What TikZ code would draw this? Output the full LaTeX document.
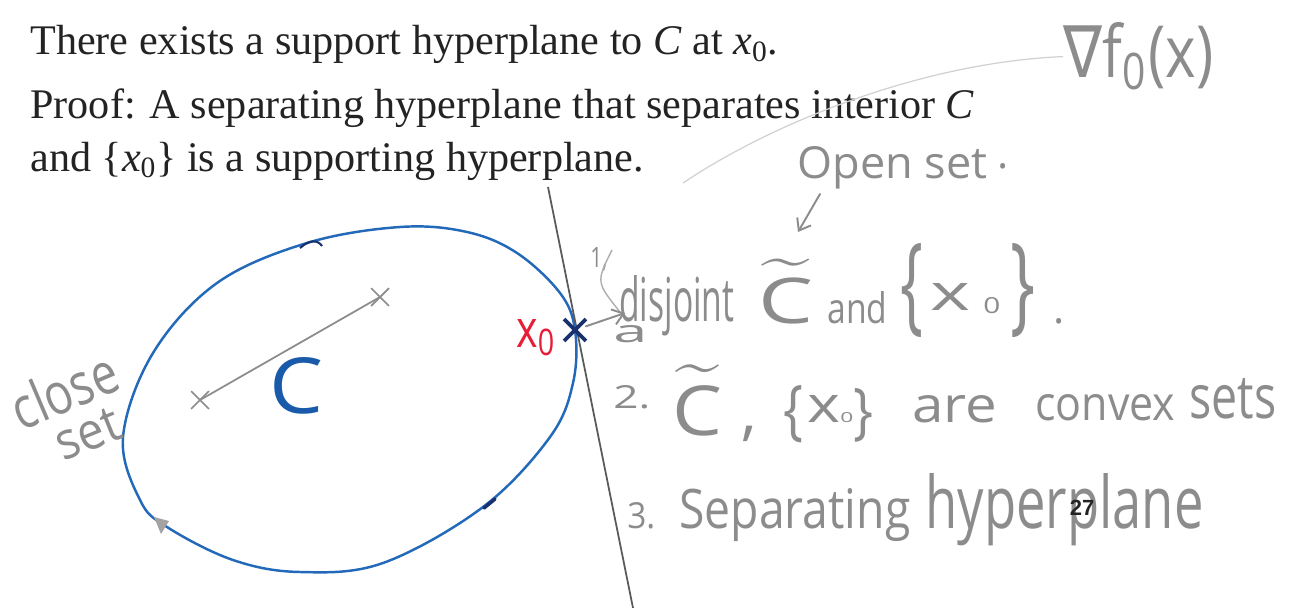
\documentclass[tikz,border=0pt]{standalone}
\usepackage{fontspec}
\usepackage{graphicx}
\setmainfont{Liberation Serif}
\newfontfamily\hand{Open Sans}
\newfontfamily\djv{DejaVu Sans}
\newfontfamily\numfont{Liberation Sans}
\usetikzlibrary{arrows.meta,shapes.misc}
\newlength\pxu
\setlength\pxu{0.02cm}
\newcommand\hwb[3]{\resizebox{#1\pxu}{#2\pxu}{\hand #3}}
\newcommand\tildeC{$\widetilde{\mbox{\hand C}}$}
\definecolor{ellblue}{RGB}{35,105,185}
\definecolor{cblue}{RGB}{25,90,170}
\definecolor{navy}{RGB}{25,50,110}
\definecolor{xred}{RGB}{230,30,55}
\definecolor{hgray}{RGB}{140,140,140}
\definecolor{ink}{RGB}{35,35,35}
\definecolor{planegray}{RGB}{90,90,90}
\begin{document}
\begin{tikzpicture}[x=0.02cm,y=-0.02cm,
  prose/.style={anchor=base west,inner sep=0pt,text=ink,font=\fontsize{24}{28}\selectfont},
  hw/.style={anchor=base west,inner sep=0pt,text=hgray},
  hwc/.style={anchor=center,inner sep=0pt,text=hgray},
  stroke/.style={draw=hgray,line width=1.1pt,line cap=round},
  xmark/.style={cross out,draw=hgray,line width=1pt,minimum size=0.32cm,inner sep=0pt},
  bluex/.style={cross out,draw=navy,line width=2.2pt,minimum size=0.36cm,inner sep=0pt},
  barb/.style={-{Straight Barb[length=6pt,width=9pt]}}]
\fill[white] (0,0) rectangle (1294,608);
\useasboundingbox (0,0) rectangle (1294,608);

% printed text
\node[prose] (l1) at (30,55) {There exists a support hyperplane to \textit{C} at \textit{x}\textsubscript{0}.};
\node[prose] (l2) at (30,118) {Proof: A separating hyperplane that separates interior \textit{C}};
\node[prose] (l3) at (30,171) {and \{\textit{x}\textsubscript{0}\} is a supporting hyperplane.};

% convex set C
\draw[ellblue,line width=1.4pt] plot[smooth cycle,tension=0.6] coordinates {
  (400,227) (467,232) (517,253) (560,293) (575,330) (573,383) (550,437)
  (483,507) (383,563) (300,572) (233,560) (167,527) (140,500) (123,437)
  (153,353) (217,283) (307,243)};
\draw[navy,line width=1.2pt] (300,248) .. controls (310,239) and (318,240) .. (322,246);
\draw[navy,line width=2pt,line cap=round] (484,508) -- (495,499);
\fill[hgray!80] (154,517) -- (169,521) -- (161,534) -- cycle;

% segment inside C
\node[xmark] (p1) at (200,400) {};
\node[xmark] (p2) at (380,297) {};
\draw[hgray,line width=1pt] (p1.center) -- (p2.center);
\node[hw,text=cblue] (Clab) at (269,413) {\hwb{54}{56}{C}};

% supporting hyperplane and x0
\coordinate (h1) at (548,187);
\coordinate (h2) at (633,608);
\draw[planegray,line width=1pt] (h1) -- (h2);
\node[bluex] (x0) at (575,330) {};
\node[hw,text=xred] (x0lab) at (516,347) {\hwb{40}{28}{x\textsubscript{0}}};

% close set
\node[hwc,rotate=23] (close) at (64,390) {\hwb{110}{44}{close}};
\node[hwc,rotate=22] (setw) at (88,434) {\hwb{66}{34}{set}};

% gradient note
\node[hw] (grad) at (1063,78) {\hwb{150}{55}{{\djv ∇}f\textsubscript{0}(x)}};
\draw[hgray!40,line width=0.7pt] (683,183) .. controls (780,118) and (930,62) .. (grad.west);

% open set
\node[hw] (open) at (797,178) {\hwb{190}{32}{Open set}};
\node[hw,font=\hand\fontsize{24}{24}\selectfont] (odot) at (997,168) {.};
\coordinate (oa) at (820,194);
\coordinate (ob) at (798,232);
\draw[stroke,barb] (oa) -- (ob);

% item 1
\node[hw] (one) at (590,267) {\hwb{17}{20}{1,}};
\draw[hgray!70,line width=0.8pt] (612,250) .. controls (596,282) .. (620,312);
\coordinate (arrtip) at (625,313);
\draw[stroke,barb] (x0) -- (arrtip);
\node[hw] (dis) at (619,321) {\hwb{115}{46}{disjoint}};
\node[hw] (a) at (613,342) {\hwb{34}{17}{a}};
\node[hw] (ct1) at (758,323) {\resizebox{55\pxu}{64\pxu}{\tildeC}};
\node[hw] (and) at (827,323) {\hwb{60}{32}{and}};
\node[hw] (lb1) at (900,320) {\hwb{23}{77}{\{}};
\node[hw] (xa) at (930,310) {\hwb{40}{27}{x}};
\node[hw] (za) at (983,313) {\hwb{17}{16}{0}};
\node[hw] (rb1) at (1010,320) {\hwb{25}{77}{\}}};
\node[hw,font=\hand\fontsize{24}{24}\selectfont] (dot2) at (1053,323) {.};

% item 2
\node[hw] (two) at (613,408) {\hwb{37}{23}{2.}};
\node[hw] (ct2) at (672,435) {\resizebox{50\pxu}{70\pxu}{\tildeC}};
\node[hw,font=\hand\fontsize{36}{36}\selectfont] (comma) at (741,433) {,};
\node[hw] (lb2) at (783,432) {\hwb{20}{47}{\{}};
\node[hw] (xb) at (807,422) {\hwb{33}{27}{x}};
\node[hw] (zb) at (840,422) {\hwb{13}{10}{0}};
\node[hw] (rb2) at (853,432) {\hwb{20}{44}{\}}};
\node[hw] (are) at (912,422) {\hwb{85}{27}{are}};
\node[hw] (convex) at (1035,420) {\hwb{140}{26}{convex}};
\node[hw] (sets) at (1189,418) {\hwb{87}{40}{sets}};

% item 3
\node[hw] (three) at (627,528) {\hwb{28}{26}{3.}};
\node[hw] (sep) at (679,528) {\hwb{231}{40}{Separating}};
\node[hw] (hyp) at (925,528) {\hwb{278}{55}{hyperplane}};

% page number
\node[inner sep=0pt,text=ink,font=\numfont\bfseries\fontsize{12.5}{13}\selectfont] (page) at (1082,508) {27};
\end{tikzpicture}
\end{document}
